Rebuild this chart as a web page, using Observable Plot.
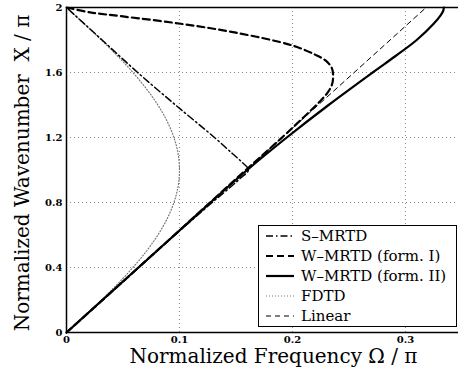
<!DOCTYPE html>
<html>
<head>
<meta charset="utf-8">
<script src="https://cdn.jsdelivr.net/npm/d3@7"></script>
<script src="https://cdn.jsdelivr.net/npm/@observablehq/plot@0.6"></script>
<style>
  body { margin: 0; background: #fff; }
  #wrap { position: relative; width: 458px; height: 377px; overflow: hidden; }
  #legend { position: absolute; left: 258px; top: 225px; width: 197px; height: 100px;
    border: 1.5px solid #000; background: #fff; font-family: "DejaVu Serif", serif; font-size: 15px; }
  .row { position: absolute; left: 6px; height: 20px; display: flex; align-items: center; }
  .row svg { margin-right: 6px; }
</style>
</head>
<body>
<div id="wrap"></div>
<script>
// ---- data (Ω/π on x, X/π on y) ----
const xTicks = [0, 0.1, 0.2, 0.3];
const yTicks = [0, 0.4, 0.8, 1.2, 1.6, 2];
const xTickLabels = ["0", "0.1", "0.2", "0.3"];
const yTickLabels = ["0", "0.4", "0.8", "1.2", "1.6", "2"];

const smrtdW = [0, 0.032, 0.064, 0.096, 0.129, 0.146, 0.154, 0.161, 0.155, 0.147, 0.131, 0.0965, 0.063, 0.0315, 0];
const smrtdX = [0, 0.2, 0.4, 0.6, 0.8, 0.9, 0.95, 1.0, 1.05, 1.1, 1.2, 1.4, 1.6, 1.8, 2.0];

const form1W = [0, 0.1, 0.15, 0.19, 0.21, 0.224, 0.231, 0.235, 0.236, 0.235, 0.23, 0.22, 0.2, 0.15, 0.101, 0.05, 0.021, 0];
const form1X = [0, 0.628, 0.945, 1.195, 1.325, 1.42, 1.475, 1.525, 1.575, 1.625, 1.67, 1.71, 1.766, 1.845, 1.90, 1.945, 1.97, 2];

const form2W = [0, 0.1, 0.16, 0.195, 0.232, 0.271, 0.291, 0.310, 0.325, 0.331, 0.3335, 0.334];
const form2X = [0, 0.628, 1.0, 1.2, 1.4, 1.6, 1.7, 1.8, 1.9, 1.95, 1.98, 2.0];

const fdtdX = [0, 0.1, 0.2, 0.3, 0.4, 0.5, 0.6, 0.7, 0.8, 0.9, 1.0, 1.1, 1.2, 1.3, 1.4, 1.5, 1.6, 1.7, 1.8, 1.9, 2.0];
const fdtdW = [0, 0.0156, 0.0309, 0.0454, 0.0588, 0.0707, 0.0809, 0.0891, 0.0951, 0.0988, 0.1, 0.0988, 0.0951, 0.0891, 0.0809, 0.0707, 0.0588, 0.0454, 0.0309, 0.0156, 0];

const linearW = [0, 0.3183];
const linearX = [0, 2];

const seriesNames = ["S\u2013MRTD", "W\u2013MRTD (form. I)", "W\u2013MRTD (form. II)", "FDTD", "Linear"];
const xTitle = "Normalized Frequency \u03A9 / \u03C0";
const yTitle = "Normalized Wavenumber  X / \u03C0";

const toRows = (w, x) => w.map((v, i) => ({w: v, x: x[i]}));

const styles = [
  {stroke: "#000", strokeWidth: 1.5, strokeDasharray: "7,3,1.5,3"},
  {stroke: "#000", strokeWidth: 2.2, strokeDasharray: "7,4"},
  {stroke: "#000", strokeWidth: 2.2},
  {stroke: "#777", strokeWidth: 1.2, strokeDasharray: "1,2"},
  {stroke: "#000", strokeWidth: 1, strokeDasharray: "5,4"}
];

const font = "DejaVu Serif";

const chart = Plot.plot({
  width: 458,
  height: 377,
  marginLeft: 66,
  marginRight: 0,
  marginTop: 7,
  marginBottom: 45,
  style: {fontFamily: font, background: "#fff"},
  x: {domain: [0, 0.347]},
  y: {domain: [0, 2]},
  marks: [
    Plot.gridX([0.1, 0.2, 0.3], {stroke: "#888", strokeOpacity: 1, strokeDasharray: "1,3"}),
    Plot.gridY([0.4, 0.8, 1.2, 1.6], {stroke: "#888", strokeOpacity: 1, strokeDasharray: "1,3"}),
    Plot.axisX(xTicks, {tickSize: 0, tickPadding: 3, fontSize: 10, fontWeight: "bold", fontFamily: font,
      tickFormat: (d, i) => xTickLabels[i], label: null}),
    Plot.axisY(yTicks, {tickSize: 0, tickPadding: 4, fontSize: 10, fontWeight: "bold", fontFamily: font,
      tickFormat: (d, i) => yTickLabels[i], label: null}),
    Plot.line(toRows(fdtdW, fdtdX), {x: "w", y: "x", curve: "catmull-rom", ...styles[3]}),
    Plot.line(toRows(linearW, linearX), {x: "w", y: "x", ...styles[4]}),
    Plot.line(toRows(smrtdW, smrtdX), {x: "w", y: "x", curve: "catmull-rom", ...styles[0]}),
    Plot.line(toRows(form1W, form1X), {x: "w", y: "x", curve: "catmull-rom", ...styles[1]}),
    Plot.line(toRows(form2W, form2X), {x: "w", y: "x", curve: "catmull-rom", ...styles[2]}),
    Plot.ruleX([0], {stroke: "#000", strokeWidth: 1.5}),
    Plot.ruleY([0, 2], {stroke: "#000", strokeWidth: 1.5}),
    Plot.text([xTitle], {frameAnchor: "bottom", textAnchor: "middle", dy: 30, dx: 11, fontSize: 20, fontFamily: font, fill: "#000"}),
    Plot.text([yTitle], {frameAnchor: "left", textAnchor: "middle", dx: -44, dy: 3, rotate: -90, fontSize: 20, fontFamily: font, fill: "#000"})
  ]
});

const wrap = document.getElementById("wrap");
wrap.appendChild(chart);

// legend
const legend = document.createElement("div");
legend.id = "legend";
seriesNames.forEach((name, i) => {
  const row = document.createElement("div");
  row.className = "row";
  row.style.top = (0 + i * 20) + "px";
  const s = styles[i];
  row.innerHTML = `<svg width="30" height="10"><line x1="1" x2="29" y1="5" y2="5" stroke="${s.stroke}" stroke-width="${s.strokeWidth}" ${s.strokeDasharray ? `stroke-dasharray="${s.strokeDasharray}"` : ""}/></svg><span>${name}</span>`;
  legend.appendChild(row);
});
wrap.appendChild(legend);
</script>
</body>
</html>
